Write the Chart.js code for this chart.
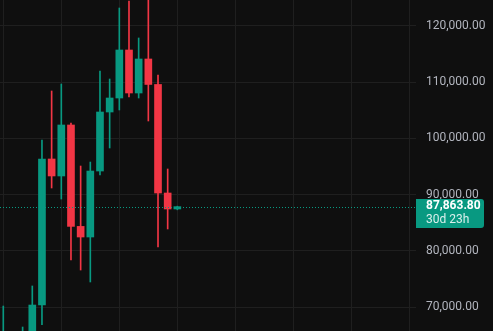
<!DOCTYPE html>
<html>
<head>
  <title>BTC Monthly Candles</title>
  <style>
    html, body { margin: 0; padding: 0; background: #0f0f0f; }
    #wrap { width: 493px; height: 331px; position: relative; }
  </style>
</head>
<body>
  <div id="wrap"><canvas id="candles"></canvas></div>

  <script src="https://cdn.jsdelivr.net/npm/chart.js"></script>
  <script>
    // monthly candles, Jul 2024 .. Jan 2026
    const months = ['2024-07','2024-08','2024-09','2024-10','2024-11','2024-12',
                    '2025-01','2025-02','2025-03','2025-04','2025-05','2025-06',
                    '2025-07','2025-08','2025-09','2025-10','2025-11','2025-12','2026-01'];
    const opens  = [62700, 64600, 58900, 63300, 70360, 96340, 93320, 102390, 84350, 82460, 94200, 104700, 107190, 115730, 108080, 114130, 109600, 90290, 87445];
    const highs  = [70180, 65100, 66450, 73750, 99720, 108440, 109680, 102740, 95090, 95800, 111990, 110570, 123200, 124450, 117870, 126200, 111280, 94560, 87950];
    const lows   = [53500, 49000, 52500, 58900, 66860, 91180, 89220, 78370, 76590, 74460, 93490, 98300, 105060, 107370, 107190, 103100, 80690, 83890, 87300];
    const closes = [64600, 58900, 63300, 70360, 96340, 93320, 102390, 84350, 82460, 94200, 104700, 107190, 115730, 108080, 114130, 109600, 90290, 87445, 87863.80];
    const yTicks = [70000, 80000, 90000, 100000, 110000, 120000];
    const lastPrice = 87863.80;
    const countdown = '30d 23h';

    const UP = '#089981';
    const DOWN = '#f23645';
    const colors = opens.map((o, i) => closes[i] >= o ? UP : DOWN);

    const wicks = months.map((m, i) => ({ x: i, y: [lows[i], highs[i]] }));
    const bodies = months.map((m, i) => ({ x: i, y: [opens[i], closes[i]] }));

    const fmt = v => v.toLocaleString('en-US', { minimumFractionDigits: 2, maximumFractionDigits: 2 });

    // price axis labels, last price line and the price tag
    const priceAxis = {
      id: 'priceAxis',
      afterDatasetsDraw(chart) {
        const { ctx, chartArea, scales } = chart;
        const y = Math.round(scales.y.getPixelForValue(lastPrice)) + 0.5;
        ctx.save();
        ctx.strokeStyle = UP;
        ctx.lineWidth = 1;
        ctx.setLineDash([1, 2]);
        ctx.beginPath();
        ctx.moveTo(chartArea.left, y);
        ctx.lineTo(chartArea.right, y);
        ctx.stroke();
        ctx.restore();
      },
      afterDraw(chart) {
        const { ctx, chartArea, scales } = chart;
        const x = chartArea.right;
        ctx.save();
        ctx.textBaseline = 'middle';
        ctx.textAlign = 'left';
        ctx.font = '12px Roboto';
        ctx.fillStyle = '#b2b5be';
        yTicks.forEach(v => ctx.fillText(fmt(v), x + 10, scales.y.getPixelForValue(v)));

        const top = Math.round(scales.y.getPixelForValue(lastPrice)) - 8;
        ctx.fillStyle = UP;
        ctx.beginPath();
        ctx.roundRect(x, top, 68, 29, [0, 3, 3, 0]);
        ctx.fill();
        ctx.fillStyle = '#ffffff';
        ctx.font = 'bold 12px Roboto';
        ctx.fillText(fmt(lastPrice), x + 10, top + 7);
        ctx.fillStyle = 'rgba(255,255,255,0.85)';
        ctx.font = '12px Roboto';
        ctx.fillText(countdown, x + 10, top + 21);
        ctx.restore();
      }
    };

    new Chart(document.getElementById('candles').getContext('2d'), {
      type: 'bar',
      data: {
        datasets: [
          { label: 'wick', data: wicks, backgroundColor: colors, barThickness: 1, grouped: false },
          { label: 'body', data: bodies, backgroundColor: colors, barThickness: 7, minBarLength: 2, grouped: false }
        ]
      },
      options: {
        responsive: true,
        maintainAspectRatio: false,
        animation: false,
        layout: { padding: 0 },
        plugins: { legend: { display: false }, tooltip: { enabled: false } },
        scales: {
          x: {
            type: 'linear',
            offset: false,
            min: -0.34,
            max: 42.68,
            afterBuildTicks: s => { s.ticks = [0, 6, 12, 18, 24, 30, 36, 42].map(v => ({ value: v })); },
            ticks: { display: false },
            grid: { color: '#1f1f1f', drawTicks: false, offset: false },
            border: { display: false }
          },
          y: {
            position: 'right',
            min: 65740,
            max: 124625,
            afterBuildTicks: s => { s.ticks = yTicks.map(v => ({ value: v })); },
            afterFit: s => { s.width = 77; },
            ticks: { display: false },
            grid: { color: '#1f1f1f', drawTicks: false },
            border: { display: false }
          }
        }
      },
      plugins: [priceAxis]
    });
  </script>
</body>
</html>
